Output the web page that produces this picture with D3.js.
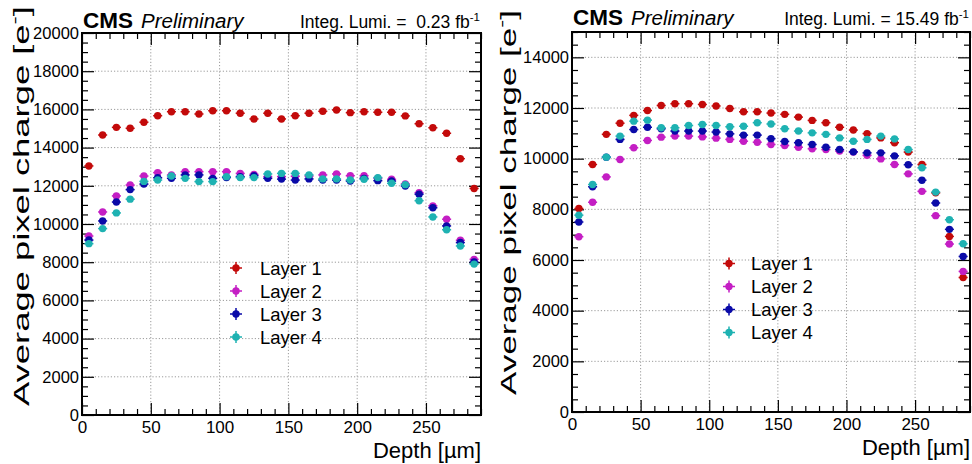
<!DOCTYPE html>
<html>
<head>
<meta charset="utf-8">
<script src="https://cdn.jsdelivr.net/npm/d3@7"></script>
<style>
  html, body { margin: 0; padding: 0; background: #fff; }
  svg { display: block; font-family: "Liberation Sans", Arial, Helvetica, sans-serif; }
  text { white-space: pre; }
</style>
</head>
<body>
<svg id="chart" width="972" height="464"></svg>
<script>
// Depth bin centres [µm]
const depthBins = [5, 15, 25, 35, 45, 55, 65, 75, 85, 95, 105, 115, 125, 135, 145,
                   155, 165, 175, 185, 195, 205, 215, 225, 235, 245, 255, 265, 275, 285];

const layerNames = ["Layer 1", "Layer 2", "Layer 3", "Layer 4"];
const layerColors = ["#c30a0a", "#c41ec4", "#0a0aa8", "#1eb2b2"];

// Average pixel charge [e-], 0.23 fb^-1
const lowLumiLayer1 = [13040, 14660, 15060, 15010, 15330, 15670, 15880, 15880, 15760, 15930, 15930, 15800, 15500, 15800, 15500,
                       15670, 15800, 15900, 15970, 15830, 15880, 15850, 15850, 15660, 15250, 15040, 14750, 13420, 11860];
const lowLumiLayer2 = [9370, 10630, 11470, 12040, 12510, 12690, 12570, 12740, 12740, 12740, 12740, 12650, 12600, 12480, 12480,
                       12500, 12510, 12570, 12620, 12530, 12530, 12400, 12340, 12100, 11640, 10950, 10250, 9150, 8150];
const lowLumiLayer3 = [9160, 10160, 11150, 11800, 12090, 12420, 12390, 12570, 12570, 12390, 12430, 12480, 12530, 12390, 12350,
                       12300, 12360, 12300, 12300, 12250, 12390, 12270, 12250, 11990, 11560, 10850, 9900, 9030, 8010];
const lowLumiLayer4 = [8970, 9760, 10580, 11300, 12230, 12300, 12510, 12390, 12220, 12220, 12480, 12430, 12430, 12620, 12650,
                       12650, 12570, 12360, 12360, 12300, 12340, 12430, 12130, 12060, 11220, 10370, 9700, 8850, 7900];

// Average pixel charge [e-], 15.49 fb^-1
const highLumiLayer1 = [8030, 9770, 10960, 11400, 11710, 11900, 12100, 12170, 12170, 12140, 12080, 11980, 11850, 11850, 11800,
                        11750, 11640, 11510, 11420, 11240, 11130, 10990, 10820, 10630, 10260, 9770, 8650, 6930, 5310];
const highLumiLayer2 = [6920, 8280, 9280, 9970, 10430, 10720, 10850, 10890, 10890, 10860, 10810, 10760, 10690, 10650, 10560,
                        10520, 10450, 10390, 10360, 10300, 10260, 10130, 9990, 9770, 9400, 8710, 7750, 6630, 5550];
const highLumiLayer3 = [7500, 8890, 10060, 10760, 11150, 11240, 11180, 11090, 11090, 11090, 11050, 10980, 10930, 10930, 10790,
                        10680, 10630, 10560, 10450, 10360, 10270, 10230, 10230, 10110, 9760, 9150, 8250, 7210, 6140];
const highLumiLayer4 = [7770, 8980, 10060, 10890, 11480, 11520, 11220, 11220, 11310, 11350, 11310, 11260, 11280, 11420, 11370,
                        11180, 11090, 11020, 10960, 10820, 10690, 10760, 10890, 10780, 10360, 9640, 8680, 7590, 6640];

// Axis ticks
const depthTicks = [0, 50, 100, 150, 200, 250];
const depthMinorTicks = [10, 20, 30, 40, 60, 70, 80, 90, 110, 120, 130, 140, 160, 170, 180, 190,
                         210, 220, 230, 240, 260, 270, 280, 290];
const lowLumiChargeTicks = [0, 2000, 4000, 6000, 8000, 10000, 12000, 14000, 16000, 18000, 20000];
const highLumiChargeTicks = [0, 2000, 4000, 6000, 8000, 10000, 12000, 14000];

const lumiLabels = ["0.23", "15.49"];

const svg = d3.select("#chart");

const panels = [
  {
    lumi: "Integ. Lumi. =  " + lumiLabels[0] + " fb",
    series: [lowLumiLayer1, lowLumiLayer2, lowLumiLayer3, lowLumiLayer4],
    yMax: 20000, yTicks: lowLumiChargeTicks,
    box: { left: 82, right: 481, top: 33, bottom: 415 },
    headY: 28, xLabelY: 458, yTitleX: 29, yTitleTop: 6, yTitleLen: 400,
    legend: { x: 236, y: 268, textX: 260 }
  },
  {
    lumi: "Integ. Lumi. = " + lumiLabels[1] + " fb",
    series: [highLumiLayer1, highLumiLayer2, highLumiLayer3, highLumiLayer4],
    yMax: 15000, yTicks: highLumiChargeTicks,
    box: { left: 572, right: 970, top: 32, bottom: 412 },
    headY: 25, xLabelY: 455, yTitleX: 516, yTitleTop: 10, yTitleLen: 385,
    legend: { x: 729, y: 263.5, textX: 751 }
  }
];

const minorCharge = max => d3.range(500, max + 1, 500).filter(v => v % 2000 !== 0);

panels.forEach(p => {
  const b = p.box;
  const x = d3.scaleLinear().domain([0, 290]).range([b.left, b.right]);
  const y = d3.scaleLinear().domain([0, p.yMax]).range([b.bottom, b.top]);
  const g = svg.append("g");

  // dotted grid
  g.append("g").selectAll("line").data(depthTicks.filter(d => d > 0))
    .join("line")
    .attr("x1", d => x(d)).attr("x2", d => x(d))
    .attr("y1", b.top).attr("y2", b.bottom)
    .attr("stroke", "#9a9a9a").attr("stroke-width", 1).attr("stroke-dasharray", "1.2,2");
  g.append("g").selectAll("line").data(p.yTicks.filter(d => d > 0 && d < p.yMax))
    .join("line")
    .attr("x1", b.left).attr("x2", b.right)
    .attr("y1", d => y(d)).attr("y2", d => y(d))
    .attr("stroke", "#9a9a9a").attr("stroke-width", 1).attr("stroke-dasharray", "1.2,2");

  // axes with inward ticks
  const styleAxis = (sel, size) => {
    sel.select(".domain").remove();
    sel.selectAll(".tick line").attr("stroke", "#000").attr("stroke-width", 1.2);
    sel.selectAll(".tick text").attr("fill", "#000").attr("font-size", size || 16)
      .attr("font-family", "Liberation Sans, Arial, Helvetica, sans-serif");
  };
  g.append("g").attr("transform", `translate(0,${b.bottom})`)
    .call(d3.axisBottom(x).tickValues(depthTicks).tickSize(-12).tickPadding(6).tickFormat(d3.format("d")))
    .call(styleAxis, 17);
  g.append("g").attr("transform", `translate(0,${b.bottom})`)
    .call(d3.axisBottom(x).tickValues(depthMinorTicks).tickSize(-6).tickFormat(""))
    .call(styleAxis);
  g.append("g").attr("transform", `translate(0,${b.top})`)
    .call(d3.axisTop(x).tickValues(depthTicks).tickSize(-12).tickFormat(""))
    .call(styleAxis);
  g.append("g").attr("transform", `translate(0,${b.top})`)
    .call(d3.axisTop(x).tickValues(depthMinorTicks).tickSize(-6).tickFormat(""))
    .call(styleAxis);
  g.append("g").attr("transform", `translate(${b.left},0)`)
    .call(d3.axisLeft(y).tickValues(p.yTicks).tickSize(-12).tickPadding(3).tickFormat(d3.format("d")))
    .call(styleAxis, 16.5);
  g.append("g").attr("transform", `translate(${b.left},0)`)
    .call(d3.axisLeft(y).tickValues(minorCharge(p.yMax)).tickSize(-6).tickFormat(""))
    .call(styleAxis);
  g.append("g").attr("transform", `translate(${b.right},0)`)
    .call(d3.axisRight(y).tickValues(p.yTicks).tickSize(-12).tickFormat(""))
    .call(styleAxis);
  g.append("g").attr("transform", `translate(${b.right},0)`)
    .call(d3.axisRight(y).tickValues(minorCharge(p.yMax)).tickSize(-6).tickFormat(""))
    .call(styleAxis);

  // frame
  g.append("rect")
    .attr("x", b.left).attr("y", b.top)
    .attr("width", b.right - b.left).attr("height", b.bottom - b.top)
    .attr("fill", "none").attr("stroke", "#000").attr("stroke-width", 2);

  // data points with horizontal error bars
  p.series.forEach((vals, i) => {
    const s = g.append("g");
    const pts = depthBins.map((d, k) => ({ d, v: vals[k] }));
    s.selectAll("line").data(pts).join("line")
      .attr("x1", e => x(e.d - 3.3)).attr("x2", e => x(e.d + 3.3))
      .attr("y1", e => y(e.v)).attr("y2", e => y(e.v))
      .attr("stroke", layerColors[i]).attr("stroke-width", 1.5);
    s.selectAll("circle").data(pts).join("circle")
      .attr("cx", e => x(e.d)).attr("cy", e => y(e.v)).attr("r", 3.7)
      .attr("fill", layerColors[i]);
  });

  // legend
  const lg = g.append("g");
  layerNames.forEach((name, i) => {
    const cy = p.legend.y + i * 23;
    const cx = p.legend.x;
    lg.append("line").attr("x1", cx - 6).attr("x2", cx + 6).attr("y1", cy).attr("y2", cy)
      .attr("stroke", layerColors[i]).attr("stroke-width", 1.5);
    lg.append("line").attr("x1", cx).attr("x2", cx).attr("y1", cy - 6).attr("y2", cy + 6)
      .attr("stroke", layerColors[i]).attr("stroke-width", 1.5);
    lg.append("circle").attr("cx", cx).attr("cy", cy).attr("r", 3.7).attr("fill", layerColors[i]);
    lg.append("text").attr("x", p.legend.textX).attr("y", cy + 6.5)
      .attr("font-size", 18.5).attr("fill", "#000").text(name);
  });

  // header
  g.append("text").attr("x", b.left + 1).attr("y", p.headY)
    .attr("font-size", 22.5).attr("font-weight", "bold").text("CMS");
  g.append("text").attr("x", b.left + 59).attr("y", p.headY)
    .attr("font-size", 20.5).attr("font-style", "italic").text("Preliminary");
  const lumi = g.append("text").attr("x", b.right - 1).attr("y", p.headY)
    .attr("text-anchor", "end").attr("font-size", 17.5);
  lumi.append("tspan").text(p.lumi);
  lumi.append("tspan").attr("font-size", 11.5).attr("dy", -7).text("-1");

  // axis titles
  g.append("text").attr("x", b.right).attr("y", p.xLabelY)
    .attr("text-anchor", "end").attr("font-size", 22).text("Depth [µm]");
  const yt = g.append("text")
    .attr("transform", `translate(${p.yTitleX},${p.yTitleTop + p.yTitleLen}) rotate(-90)`)
    .attr("font-size", 22)
    .attr("textLength", p.yTitleLen).attr("lengthAdjust", "spacingAndGlyphs");
  yt.append("tspan").text("Average pixel charge [e");
  yt.append("tspan").attr("font-size", 15).attr("dy", -9).text("-");
  yt.append("tspan").attr("dy", 9).text("]");
});
</script>
</body>
</html>
